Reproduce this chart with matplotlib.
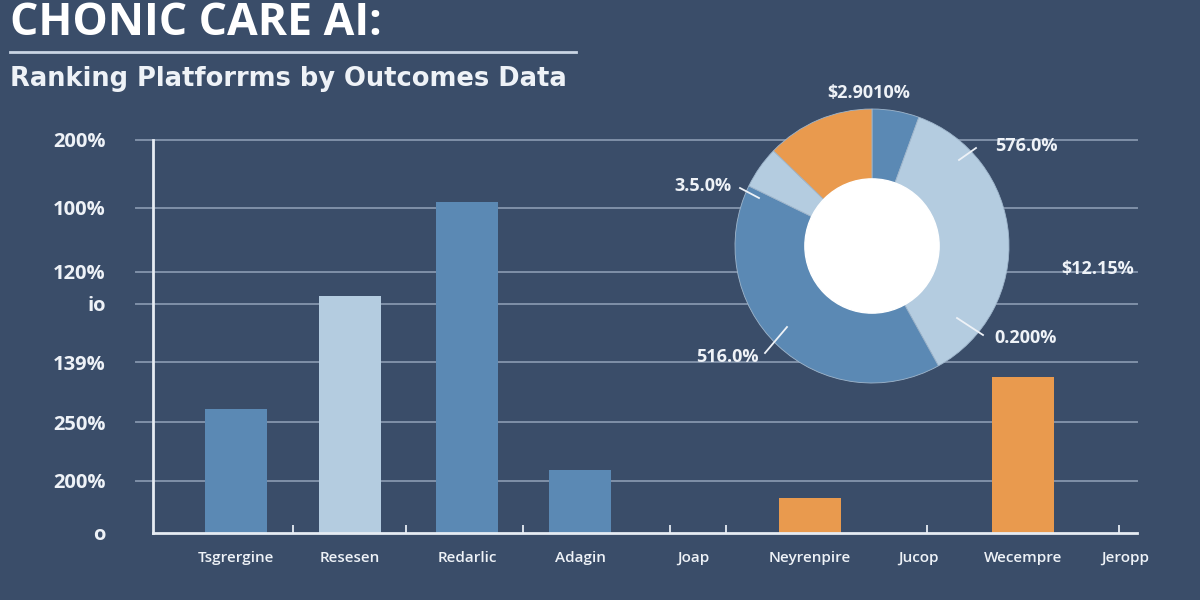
"""
plot.py: Chronic care AI outcomes chart (bars with a donut overlay).
"""

import matplotlib

matplotlib.use("Agg")
import matplotlib.pyplot as plt
from matplotlib.patches import Circle

# data
platforms = [
    "Tsgrergine", "Resesen", "Redarlic", "Adagin", "Joap",
    "Neyrenpire", "Jucop", "Wecempre", "Jeropp",
]
platform_x = [236, 350, 467, 580, 693, 810, 918, 1023, 1125]
bar_values = [124, 237, 331, 63, 0, 35, 0, 156, 0]
bar_kinds = ["blue", "light", "blue", "blue", "blue", "orange", "blue", "orange", "blue"]

y_ticks = [0, 52, 111, 171, 229, 261, 325, 393]
y_tick_labels = ["o", "200%", "250%", "139%", "io", "120%", "100%", "200%"]
x_minor_ticks = [293, 406, 523, 670, 726, 927, 1119]

pie_shares = [20, 131, 145, 18, 46]
pie_kinds = ["blue", "light", "blue", "light", "orange"]

pie_labels = ["$2.9010%", "576.0%", "3.5.0%", "$12.15%", "0.200%", "516.0%"]

BG = "#3a4d69"
GRID = "#7f90a8"
TEXT = "#eef2f7"
COLORS = {"blue": "#5b89b4", "light": "#b4cce0", "orange": "#e99a4e"}

fig = plt.figure(figsize=(12, 6), dpi=100, facecolor=BG)

# ---- bar chart, axes placed in pixel terms of the 1200x600 canvas
ax = fig.add_axes([153 / 1200, 67 / 600, (1137 - 153) / 1200, 393 / 600])
ax.set_facecolor(BG)
ax.set_xlim(153, 1137)
ax.set_ylim(0, 393)

ax.bar(
    platform_x,
    bar_values,
    width=62,
    color=[COLORS[k] for k in bar_kinds],
    zorder=3,
)

# grid lines start a little left of the y axis, as in the reference
for y in y_ticks[1:]:
    ax.plot([136, 1137], [y, y], color=GRID, lw=1.4, zorder=1, clip_on=False)

for side in ("top", "right"):
    ax.spines[side].set_visible(False)
for side in ("left", "bottom"):
    ax.spines[side].set_color("#e6ecf3")
    ax.spines[side].set_linewidth(2)
    ax.spines[side].set_zorder(4)

ax.set_yticks(y_ticks)
ax.set_yticklabels(y_tick_labels, family="Open Sans", fontweight="bold", fontsize=14.5, color=TEXT)
ax.tick_params(axis="y", length=0, pad=34)

ax.set_xticks(platform_x)
ax.set_xticklabels(platforms, family="Open Sans", fontweight="semibold", fontsize=11, color=TEXT)
ax.tick_params(axis="x", length=0, pad=13)
ax.set_xticks(x_minor_ticks, minor=True)
ax.tick_params(axis="x", which="minor", direction="in", length=6, width=1.3, color="#e6ecf3")

# ---- donut overlay, centre (872, 246) px, radius 137 px
cx, cy, r = 872, 246, 137
pax = fig.add_axes([(cx - r) / 1200, (600 - cy - r) / 600, 2 * r / 1200, 2 * r / 600])
pax.pie(
    pie_shares,
    colors=[COLORS[k] for k in pie_kinds],
    startangle=90,
    counterclock=False,
    radius=1,
    wedgeprops={"linewidth": 0.6, "edgecolor": "#9fb6cc"},
)
pax.add_patch(Circle((0, 0), 0.49, color="white", zorder=5))
pax.set_xlim(-1, 1)
pax.set_ylim(-1, 1)
pax.axis("off")


def px(x, y):
    """Pixel position on the canvas to donut units."""
    return (x - cx) / r, (cy - y) / r


label_pos = [(869, 93), (1026, 146), (703, 186), (1098, 269), (1026, 338), (727, 357)]
leader = [None, ((959, 160), (976, 148)), ((740, 188), (759, 198)), None,
          ((957, 318), (983, 335)), ((765, 353), (787, 327))]

for text, pos, line in zip(pie_labels, label_pos, leader):
    tx, ty = px(*pos)
    pax.text(tx, ty, text, ha="center", va="center", fontsize=13,
             family="Open Sans", fontweight="bold", color=TEXT, clip_on=False, zorder=6)
    if line:
        (x0, y0), (x1, y1) = px(*line[0]), px(*line[1])
        pax.plot([x0, x1], [y0, y1], color=TEXT, lw=1.3, clip_on=False, zorder=6)

# ---- titles
fig.text(10 / 1200, 1 - 1 / 600, "CHONIC CARE AI:", ha="left", va="top",
         family="Open Sans", fontweight="bold", fontsize=32, color="white")
fig.add_artist(plt.Line2D([10 / 1200, 576 / 1200], [1 - 52 / 600] * 2, color="#c9d5e4", lw=2))
fig.text(10 / 1200, 1 - 79 / 600, "Ranking Platforrms by Outcomes Data", ha="left", va="center",
         family="DejaVu Sans", fontweight="bold", fontsize=18.5, color=TEXT)

fig.savefig("out.png", dpi=100, facecolor=BG)
